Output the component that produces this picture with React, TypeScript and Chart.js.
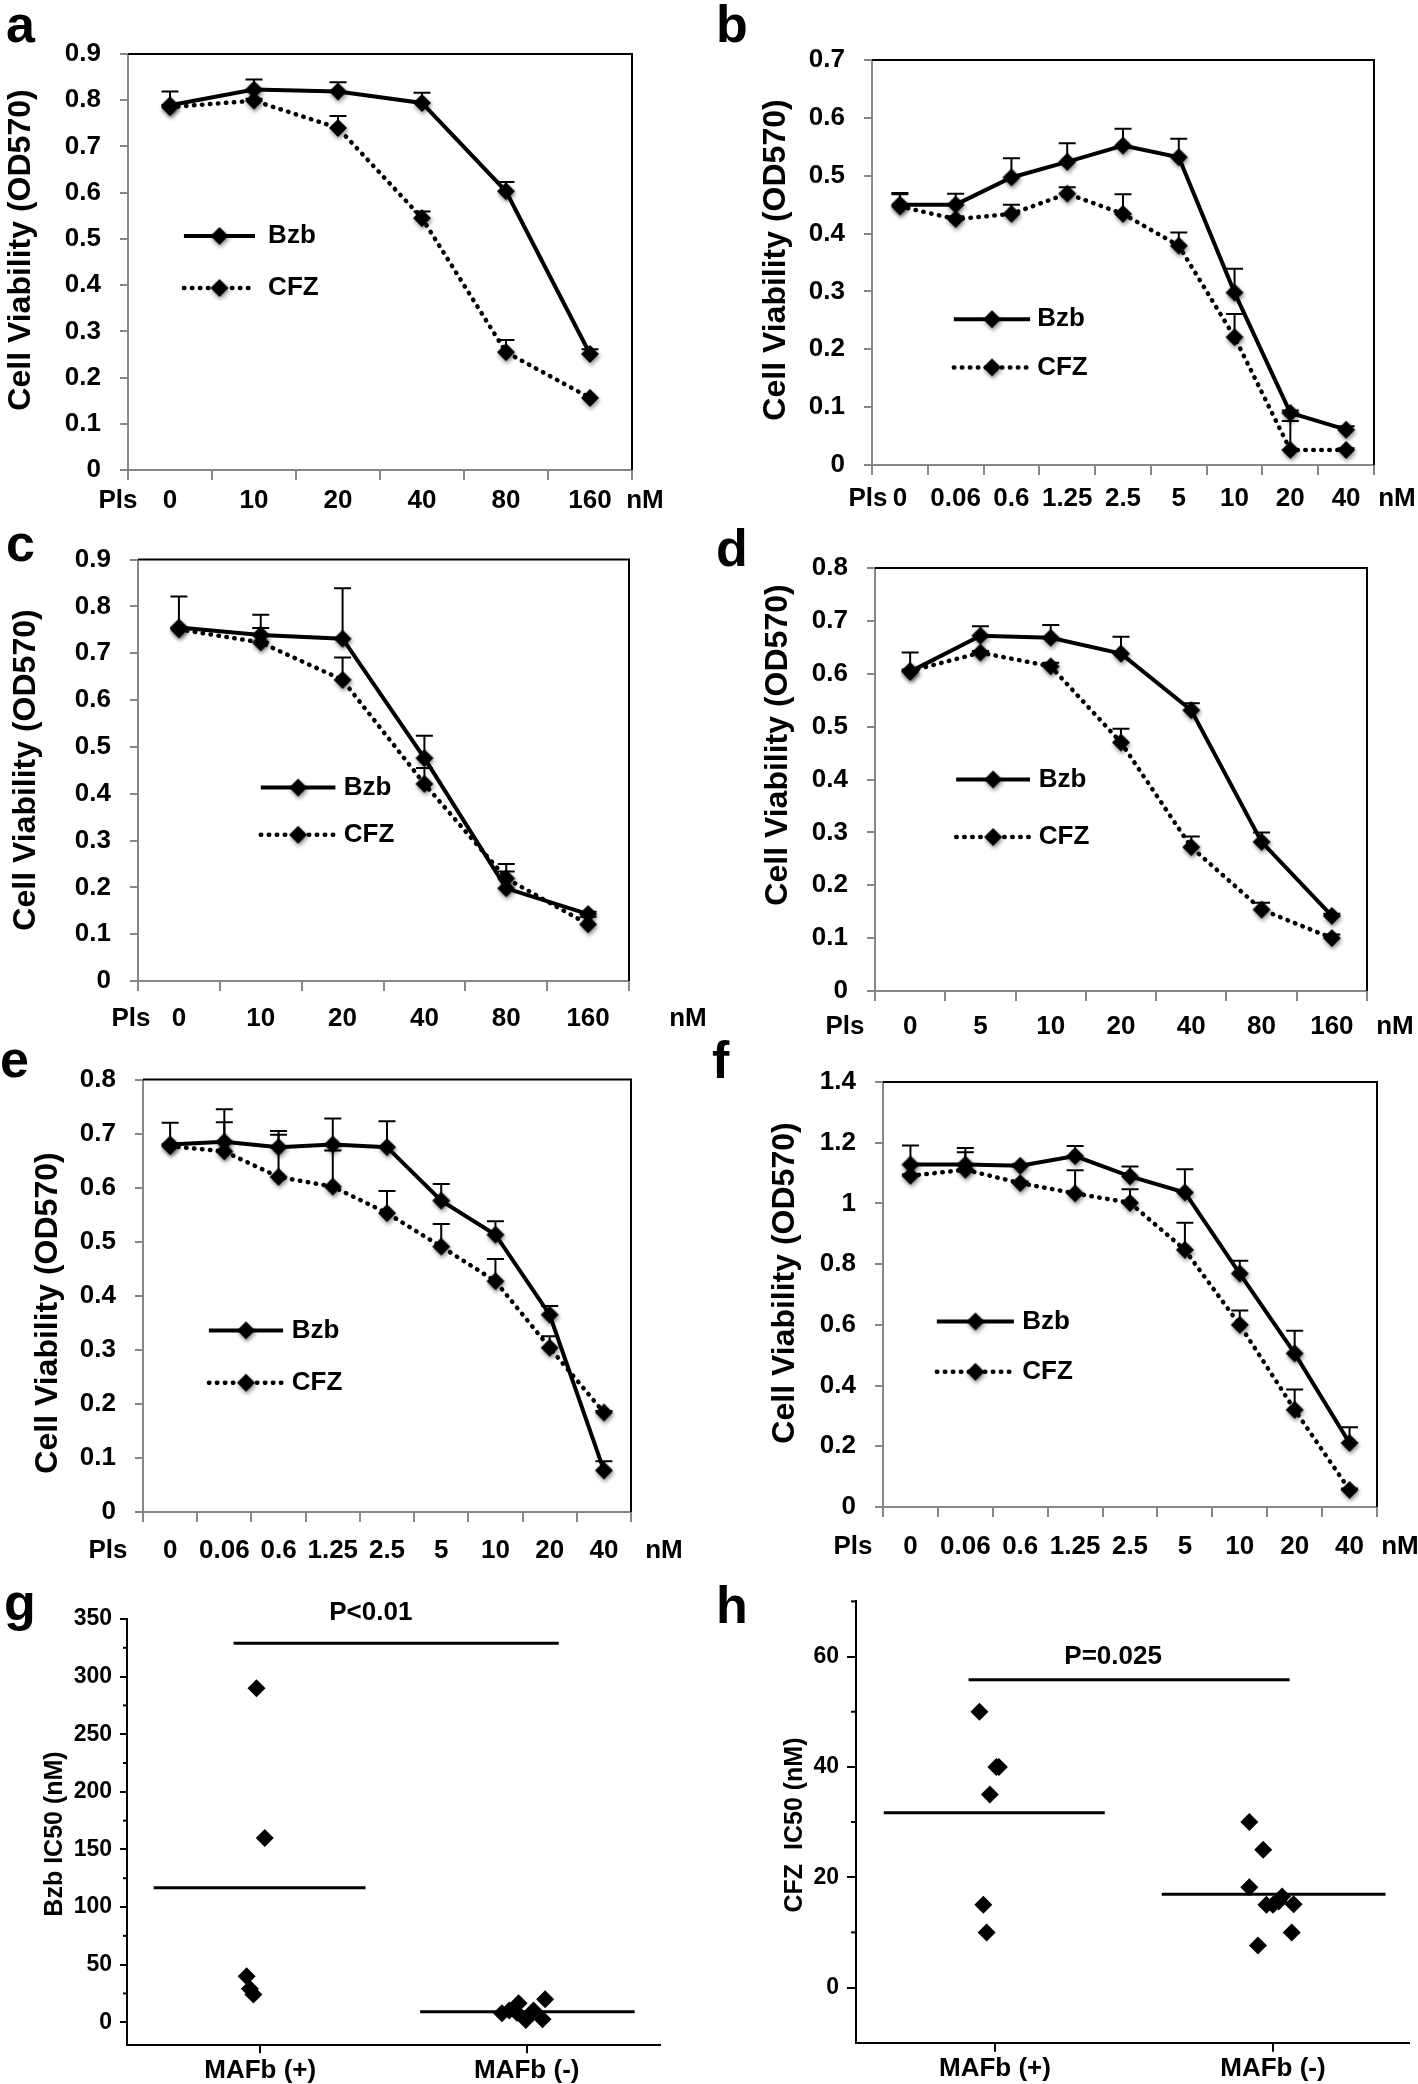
import React, { useEffect, useRef } from "react";
import { Chart, registerables } from "chart.js";

Chart.register(...registerables);

const FONT = "'Liberation Sans', Arial, Helvetica, sans-serif";
const GRAY = "#878787";

// ---------------- data ----------------
const DOSES_A = ["0", "10", "20", "40", "80", "160"];
const BZB_A = [0.789, 0.823, 0.819, 0.794, 0.603, 0.251];
const BZB_A_ERR = [0.03, 0.022, 0.02, 0.022, 0.02, 0.01];
const CFZ_A = [0.785, 0.799, 0.74, 0.545, 0.255, 0.156];
const CFZ_A_ERR = [0.004, 0.004, 0.026, 0.014, 0.026, 0.0];
const YTICKS_A = [0, 0.1, 0.2, 0.3, 0.4, 0.5, 0.6, 0.7, 0.8, 0.9];

const DOSES_B = ["0", "0.06", "0.6", "1.25", "2.5", "5", "10", "20", "40"];
const BZB_B = [0.45, 0.45, 0.497, 0.524, 0.552, 0.532, 0.298, 0.09, 0.061];
const BZB_B_ERR = [0.02, 0.019, 0.033, 0.032, 0.029, 0.032, 0.041, 0.004, 0.006];
const CFZ_B = [0.447, 0.425, 0.434, 0.469, 0.434, 0.379, 0.221, 0.026, 0.026];
const CFZ_B_ERR = [0.021, 0.005, 0.016, 0.011, 0.034, 0.023, 0.04, 0.05, 0.003];
const YTICKS_B = [0, 0.1, 0.2, 0.3, 0.4, 0.5, 0.6, 0.7];

const DOSES_C = ["0", "10", "20", "40", "80", "160"];
const BZB_C = [0.755, 0.739, 0.731, 0.476, 0.198, 0.143];
const BZB_C_ERR = [0.066, 0.043, 0.108, 0.048, 0.036, 0.005];
const CFZ_C = [0.751, 0.723, 0.643, 0.421, 0.219, 0.121];
const CFZ_C_ERR = [0.003, 0.031, 0.048, 0.034, 0.031, 0.016];
const YTICKS_C = [0, 0.1, 0.2, 0.3, 0.4, 0.5, 0.6, 0.7, 0.8, 0.9];

const DOSES_D = ["0", "5", "10", "20", "40", "80", "160"];
const BZB_D = [0.604, 0.672, 0.668, 0.638, 0.531, 0.282, 0.142];
const BZB_D_ERR = [0.036, 0.018, 0.024, 0.032, 0.013, 0.018, 0.004];
const CFZ_D = [0.605, 0.64, 0.614, 0.47, 0.272, 0.154, 0.1];
const CFZ_D_ERR = [0.003, 0.003, 0.007, 0.026, 0.02, 0.013, 0.007];
const YTICKS_D = [0, 0.1, 0.2, 0.3, 0.4, 0.5, 0.6, 0.7, 0.8];

const DOSES_E = ["0", "0.06", "0.6", "1.25", "2.5", "5", "10", "20", "40"];
const BZB_E = [0.68, 0.685, 0.675, 0.68, 0.675, 0.576, 0.513, 0.365, 0.077];
const BZB_E_ERR = [0.04, 0.06, 0.03, 0.048, 0.048, 0.031, 0.025, 0.016, 0.017];
const CFZ_E = [0.677, 0.667, 0.62, 0.602, 0.553, 0.491, 0.427, 0.304, 0.184];
const CFZ_E_ERR = [0.003, 0.054, 0.078, 0.067, 0.041, 0.042, 0.041, 0.021, 0.003];
const YTICKS_E = [0, 0.1, 0.2, 0.3, 0.4, 0.5, 0.6, 0.7, 0.8];

const DOSES_F = ["0", "0.06", "0.6", "1.25", "2.5", "5", "10", "20", "40"];
const BZB_F = [1.128, 1.128, 1.124, 1.156, 1.089, 1.036, 0.769, 0.506, 0.211];
const BZB_F_ERR = [0.063, 0.055, 0.006, 0.033, 0.033, 0.077, 0.042, 0.075, 0.052];
const CFZ_F = [1.091, 1.111, 1.067, 1.033, 1.002, 0.847, 0.6, 0.32, 0.056];
const CFZ_F_ERR = [0.005, 0.058, 0.005, 0.076, 0.045, 0.089, 0.047, 0.067, 0.005];
const YTICKS_F = [0, 0.2, 0.4, 0.6, 0.8, 1.0, 1.2, 1.4];

const GROUPS = ["MAFb (+)", "MAFb (-)"];
const GROUP_POS = [1, 3];

const G_POS_X = [0.972, 1.034, 0.898, 0.922, 0.949];
const G_POS_Y = [290, 160, 40, 29, 24];
const G_NEG_X = [2.814, 2.869, 2.939, 2.926, 2.993, 3.051, 3.138, 3.118];
const G_NEG_Y = [7.8, 10.1, 16.5, 8.3, 2.0, 10.1, 20.0, 2.6];
const G_MEANS = [116.7, 9.2];
const G_P_LINE = 329;
const G_YTICKS = [0, 50, 100, 150, 200, 250, 300, 350];
const G_YMINOR = [25, 75, 125, 175, 225, 275, 325];

const H_POS_X = [0.888, 1.01, 1.028, 0.963, 0.916, 0.94];
const H_POS_Y = [50, 40, 40, 35, 15, 10];
const H_NEG_X = [2.83, 2.93, 2.83, 2.892, 2.953, 3.0, 3.042, 3.066, 3.149, 3.135];
const H_NEG_Y = [30, 25, 18.2, 7.6, 15.0, 15.0, 15.6, 16.5, 15.1, 10.0];
const H_MEANS = [31.7, 16.9];
const H_P_LINE = 55.8;
const H_YTICKS = [0, 20, 40, 60];
const H_YMINOR = [10, 30, 50, 70];

// ---------------- helpers ----------------
function fmt(v: number) {
  return String(Number(Number(v).toFixed(1)));
}

function makeDiamond(r: number, shadow: boolean) {
  const pad = shadow ? 7 : 1;
  const size = Math.ceil(2 * (r + pad));
  const c = document.createElement("canvas");
  c.width = size;
  c.height = size;
  const ctx = c.getContext("2d") as CanvasRenderingContext2D;
  if (shadow) {
    ctx.shadowColor = "rgba(0,0,0,0.45)";
    ctx.shadowBlur = 4;
    ctx.shadowOffsetX = 1;
    ctx.shadowOffsetY = 2.5;
  }
  const m = size / 2;
  ctx.beginPath();
  ctx.moveTo(m - r, m);
  ctx.lineTo(m, m - r);
  ctx.lineTo(m + r, m);
  ctx.lineTo(m, m + r);
  ctx.closePath();
  ctx.fillStyle = "#000";
  ctx.fill();
  return c;
}

type Area = { l: number; t: number; r: number; b: number };
type Legend = { x1: number; x2: number; tx: number; y1: number; y2: number };
type LineCfg = {
  left: number;
  top: number;
  width: number;
  height: number;
  area: Area;
  labels: string[];
  bzb: number[];
  bzbErr: number[];
  cfz: number[];
  cfzErr: number[];
  yTicks: number[];
  titleX: number;
  titleY: number;
  xLabelY: number;
  plsX: number;
  nmX: number;
  legend: Legend;
};

const XH = 50;
const TS = 26;
const TICK_FONT = { family: FONT, size: TS, weight: "bold" as const };

const LINE_PANELS: LineCfg[] = [
  {
    left: 0, top: 0, width: 705, height: 525,
    area: { l: 128, t: 54, r: 632, b: 470 },
    labels: DOSES_A, bzb: BZB_A, bzbErr: BZB_A_ERR, cfz: CFZ_A, cfzErr: CFZ_A_ERR, yTicks: YTICKS_A,
    titleX: 21, titleY: 250, xLabelY: 501, plsX: 118, nmX: 645,
    legend: { x1: 0.111, x2: 0.252, tx: 0.278, y1: 0.4375, y2: 0.5625 },
  },
  {
    left: 705, top: 0, width: 713, height: 525,
    area: { l: 872, t: 60, r: 1374, b: 465 },
    labels: DOSES_B, bzb: BZB_B, bzbErr: BZB_B_ERR, cfz: CFZ_B, cfzErr: CFZ_B_ERR, yTicks: YTICKS_B,
    titleX: 776, titleY: 260, xLabelY: 499, plsX: 868, nmX: 1397,
    legend: { x1: 0.163, x2: 0.315, tx: 0.329, y1: 0.64, y2: 0.759 },
  },
  {
    left: 0, top: 525, width: 705, height: 520,
    area: { l: 138, t: 556, r: 629, b: 981 },
    labels: DOSES_C, bzb: BZB_C, bzbErr: BZB_C_ERR, cfz: CFZ_C, cfzErr: CFZ_C_ERR, yTicks: YTICKS_C,
    titleX: 26, titleY: 770, xLabelY: 1019, plsX: 131, nmX: 688,
    legend: { x1: 0.25, x2: 0.402, tx: 0.419, y1: 0.541, y2: 0.653 },
  },
  {
    left: 705, top: 525, width: 713, height: 520,
    area: { l: 875, t: 568, r: 1367, b: 991 },
    labels: DOSES_D, bzb: BZB_D, bzbErr: BZB_D_ERR, cfz: CFZ_D, cfzErr: CFZ_D_ERR, yTicks: YTICKS_D,
    titleX: 778, titleY: 745, xLabelY: 1027, plsX: 845, nmX: 1395,
    legend: { x1: 0.165, x2: 0.315, tx: 0.333, y1: 0.5, y2: 0.636 },
  },
  {
    left: 0, top: 1045, width: 705, height: 520,
    area: { l: 143, t: 1073, r: 631, b: 1512 },
    labels: DOSES_E, bzb: BZB_E, bzbErr: BZB_E_ERR, cfz: CFZ_E, cfzErr: CFZ_E_ERR, yTicks: YTICKS_E,
    titleX: 48, titleY: 1313, xLabelY: 1551, plsX: 108, nmX: 664,
    legend: { x1: 0.135, x2: 0.287, tx: 0.305, y1: 0.58, y2: 0.701 },
  },
  {
    left: 705, top: 1045, width: 713, height: 520,
    area: { l: 883, t: 1082, r: 1377, b: 1507 },
    labels: DOSES_F, bzb: BZB_F, bzbErr: BZB_F_ERR, cfz: CFZ_F, cfzErr: CFZ_F_ERR, yTicks: YTICKS_F,
    titleX: 785, titleY: 1283, xLabelY: 1547, plsX: 853, nmX: 1400,
    legend: { x1: 0.109, x2: 0.265, tx: 0.282, y1: 0.5635, y2: 0.682 },
  },
];

function LinePanel({ cfg }: { cfg: LineCfg }) {
  const ref = useRef<HTMLCanvasElement | null>(null);
  useEffect(() => {
    const canvas = ref.current;
    if (!canvas) return;
    const dia = makeDiamond(9, true);
    const { area } = cfg;
    const xPad = cfg.xLabelY - area.b - 10 - (TS * 1.2) / 2;

    const decor = {
      id: "decor",
      beforeDatasetsDraw(chart: any) {
        const ctx = chart.ctx as CanvasRenderingContext2D;
        const xs = chart.scales.x;
        const ys = chart.scales.y;
        ctx.save();
        ctx.strokeStyle = "#000";
        ctx.lineWidth = 2;
        ctx.setLineDash([]);
        const series: [number[], number[]][] = [
          [cfg.bzb, cfg.bzbErr],
          [cfg.cfz, cfg.cfzErr],
        ];
        series.forEach(([vals, errs]) =>
          vals.forEach((v, i) => {
            const e = errs[i];
            if (!e) return;
            const x = xs.getPixelForValue(i);
            const y0 = ys.getPixelForValue(v);
            const y1 = ys.getPixelForValue(v + e);
            ctx.beginPath();
            ctx.moveTo(x, y0);
            ctx.lineTo(x, y1);
            ctx.moveTo(x - 8.5, y1);
            ctx.lineTo(x + 8.5, y1);
            ctx.stroke();
          })
        );
        ctx.restore();
      },
      afterDraw(chart: any) {
        const ctx = chart.ctx as CanvasRenderingContext2D;
        const a = chart.chartArea;
        ctx.save();
        ctx.strokeStyle = "#000";
        ctx.lineWidth = 2;
        ctx.setLineDash([]);
        ctx.beginPath();
        ctx.moveTo(a.left, a.top);
        ctx.lineTo(a.right, a.top);
        ctx.lineTo(a.right, a.bottom);
        ctx.stroke();

        // y title
        ctx.fillStyle = "#000";
        ctx.font = `bold 32px ${FONT}`;
        ctx.textAlign = "center";
        ctx.textBaseline = "middle";
        ctx.save();
        ctx.translate(cfg.titleX - cfg.left, cfg.titleY - cfg.top);
        ctx.rotate(-Math.PI / 2);
        ctx.fillText("Cell Viability (OD570)", 0, 0);
        ctx.restore();

        // Pls / nM
        ctx.font = `bold ${TS}px ${FONT}`;
        ctx.fillText("Pls", cfg.plsX - cfg.left, cfg.xLabelY - cfg.top);
        ctx.fillText("nM", cfg.nmX - cfg.left, cfg.xLabelY - cfg.top);

        // legend
        const W = a.right - a.left;
        const H = a.bottom - a.top;
        const L = cfg.legend;
        const x1 = a.left + L.x1 * W;
        const x2 = a.left + L.x2 * W;
        const tx = a.left + L.tx * W;
        const yB = a.top + L.y1 * H;
        const yC = a.top + L.y2 * H;
        ctx.lineWidth = 4;
        ctx.lineCap = "butt";
        ctx.beginPath();
        ctx.moveTo(x1, yB);
        ctx.lineTo(x2, yB);
        ctx.stroke();
        ctx.drawImage(dia, (x1 + x2) / 2 - dia.width / 2, yB - dia.height / 2);
        ctx.lineWidth = 4.5;
        ctx.lineCap = "round";
        ctx.setLineDash([0.5, 7.5]);
        ctx.beginPath();
        ctx.moveTo(x1, yC);
        ctx.lineTo(x2, yC);
        ctx.stroke();
        ctx.setLineDash([]);
        ctx.drawImage(dia, (x1 + x2) / 2 - dia.width / 2, yC - dia.height / 2);
        ctx.textAlign = "left";
        ctx.fillText("Bzb", tx, yB);
        ctx.fillText("CFZ", tx, yC);
        ctx.restore();
      },
    };

    const chart = new Chart(canvas, {
      type: "line",
      data: {
        labels: cfg.labels,
        datasets: [
          {
            label: "Bzb",
            data: cfg.bzb,
            borderColor: "#000",
            backgroundColor: "#000",
            borderWidth: 4,
            tension: 0,
            pointStyle: dia as any,
            pointRadius: 9,
          },
          {
            label: "CFZ",
            data: cfg.cfz,
            borderColor: "#000",
            backgroundColor: "#000",
            borderWidth: 4.5,
            borderDash: [0.5, 7.5],
            borderCapStyle: "round",
            tension: 0,
            pointStyle: dia as any,
            pointRadius: 9,
          },
        ],
      },
      options: {
        animation: false,
        responsive: false,
        maintainAspectRatio: false,
        devicePixelRatio: 1,
        layout: {
          padding: {
            left: 0,
            top: area.t - cfg.top,
            right: cfg.left + cfg.width - area.r,
            bottom: cfg.top + cfg.height - area.b - XH,
          },
        },
        plugins: { legend: { display: false }, tooltip: { enabled: false } },
        scales: {
          x: {
            type: "category",
            offset: true,
            grid: {
              offset: true,
              drawOnChartArea: false,
              drawTicks: true,
              tickLength: 10,
              color: GRAY,
              lineWidth: 2,
            },
            border: { color: GRAY, width: 2 },
            ticks: { font: TICK_FONT, color: "#000", padding: xPad, autoSkip: false, maxRotation: 0 },
            afterFit: (s: any) => {
              s.height = XH;
            },
          },
          y: {
            type: "linear",
            min: 0,
            max: cfg.yTicks[cfg.yTicks.length - 1],
            afterBuildTicks: (s: any) => {
              s.ticks = cfg.yTicks.map((v) => ({ value: v }));
            },
            ticks: {
              font: TICK_FONT,
              color: "#000",
              padding: 19,
              autoSkip: false,
              callback: (v: any) => fmt(Number(v)),
            },
            grid: { drawOnChartArea: false, drawTicks: true, tickLength: 8, color: GRAY, lineWidth: 2 },
            border: { color: GRAY, width: 2 },
            afterFit: (s: any) => {
              s.width = area.l - cfg.left;
            },
          },
        },
      },
      plugins: [decor],
    } as any);
    return () => chart.destroy();
  }, [cfg]);
  return (
    <canvas
      ref={ref}
      width={cfg.width}
      height={cfg.height}
      style={{ position: "absolute", left: cfg.left, top: cfg.top, width: cfg.width, height: cfg.height }}
    />
  );
}

type ScatCfg = {
  left: number;
  top: number;
  width: number;
  height: number;
  area: Area;
  xMax: number;
  yMin: number;
  yMax: number;
  yMajor: number[];
  yMinor: number[];
  tickLen: number;
  minorLen: number;
  yPad: number;
  xTickLen: number;
  xPad: number;
  tickSize: number;
  posX: number[];
  posY: number[];
  negX: number[];
  negY: number[];
  means: number[];
  pLine: number;
  pText: string;
  pTextX: number;
  pTextY: number;
  pSize: number;
  title: string;
  titleX: number;
  titleY: number;
};

const MEAN_SPAN: [number, number][] = [
  [0.2, 1.79],
  [2.2, 3.81],
];

const G_CFG: ScatCfg = {
  left: 0, top: 1565, width: 705, height: 519,
  area: { l: 127, t: 1619, r: 660, b: 2045.3 },
  xMax: 4, yMin: -20, yMax: 350, yMajor: G_YTICKS, yMinor: G_YMINOR,
  tickLen: 7, minorLen: 4, yPad: 8, xTickLen: 8, xPad: 2, tickSize: 23,
  posX: G_POS_X, posY: G_POS_Y, negX: G_NEG_X, negY: G_NEG_Y, means: G_MEANS,
  pLine: G_P_LINE, pText: "P<0.01", pTextX: 1.83, pTextY: 355, pSize: 26,
  title: "Bzb IC50 (nM)", titleX: 55, titleY: 1834,
};

const H_CFG: ScatCfg = {
  left: 705, top: 1565, width: 713, height: 519,
  area: { l: 856, t: 1601.4, r: 1418, b: 2042.7 },
  xMax: 3.979, yMin: -10, yMax: 70, yMajor: H_YTICKS, yMinor: H_YMINOR,
  tickLen: 9, minorLen: 5, yPad: 8, xTickLen: 9, xPad: 2, tickSize: 23,
  posX: H_POS_X, posY: H_POS_Y, negX: H_NEG_X, negY: H_NEG_Y, means: H_MEANS,
  pLine: H_P_LINE, pText: "P=0.025", pTextX: 1.85, pTextY: 60, pSize: 26,
  title: "CFZ  IC50 (nM)", titleX: 795, titleY: 1825,
};

const G_P_SPAN: [number, number] = [0.8, 3.24];
const H_P_SPAN: [number, number] = [0.81, 3.12];

function ScatterPanel({ cfg, pSpan }: { cfg: ScatCfg; pSpan: [number, number] }) {
  const ref = useRef<HTMLCanvasElement | null>(null);
  useEffect(() => {
    const canvas = ref.current;
    if (!canvas) return;
    const { area } = cfg;
    const XHS = Math.floor(cfg.top + cfg.height - area.b);

    const decor = {
      id: "decor2",
      afterDraw(chart: any) {
        const ctx = chart.ctx as CanvasRenderingContext2D;
        const a = chart.chartArea;
        const xs = chart.scales.x;
        const ys = chart.scales.y;
        ctx.save();
        ctx.strokeStyle = "#000";
        ctx.lineWidth = 2;
        cfg.yMinor.forEach((v) => {
          const y = ys.getPixelForValue(v);
          ctx.beginPath();
          ctx.moveTo(a.left - cfg.minorLen, y);
          ctx.lineTo(a.left, y);
          ctx.stroke();
        });
        ctx.fillStyle = "#000";
        ctx.textAlign = "center";
        ctx.textBaseline = "middle";
        ctx.font = `bold ${cfg.pSize}px ${FONT}`;
        ctx.fillText(cfg.pText, xs.getPixelForValue(cfg.pTextX), ys.getPixelForValue(cfg.pTextY));
        ctx.font = `bold 25px ${FONT}`;
        ctx.translate(cfg.titleX - cfg.left, cfg.titleY - cfg.top);
        ctx.rotate(-Math.PI / 2);
        ctx.fillText(cfg.title, 0, 0);
        ctx.restore();
      },
    };

    const lineDs = (x1: number, x2: number, y: number) => ({
      data: [
        { x: x1, y },
        { x: x2, y },
      ],
      showLine: true,
      pointRadius: 0,
      borderColor: "#000",
      borderWidth: 3,
    });

    const chart = new Chart(canvas, {
      type: "scatter",
      data: {
        datasets: [
          {
            label: GROUPS[0],
            data: cfg.posX.map((x, i) => ({ x, y: cfg.posY[i] })),
            pointStyle: "rectRot",
            pointRadius: 9,
            backgroundColor: "#000",
            borderColor: "#000",
            borderWidth: 0,
          },
          {
            label: GROUPS[1],
            data: cfg.negX.map((x, i) => ({ x, y: cfg.negY[i] })),
            pointStyle: "rectRot",
            pointRadius: 9,
            backgroundColor: "#000",
            borderColor: "#000",
            borderWidth: 0,
          },
          lineDs(MEAN_SPAN[0][0], MEAN_SPAN[0][1], cfg.means[0]),
          lineDs(MEAN_SPAN[1][0], MEAN_SPAN[1][1], cfg.means[1]),
          lineDs(pSpan[0], pSpan[1], cfg.pLine),
        ],
      },
      options: {
        animation: false,
        responsive: false,
        maintainAspectRatio: false,
        devicePixelRatio: 1,
        layout: {
          padding: {
            left: 0,
            top: area.t - cfg.top,
            right: cfg.left + cfg.width - area.r,
            bottom: cfg.top + cfg.height - area.b - XHS,
          },
        },
        plugins: { legend: { display: false }, tooltip: { enabled: false } },
        scales: {
          x: {
            type: "linear",
            min: 0,
            max: cfg.xMax,
            afterBuildTicks: (s: any) => {
              s.ticks = GROUP_POS.map((v) => ({ value: v }));
            },
            ticks: {
              font: { family: FONT, size: 26, weight: "bold" },
              color: "#000",
              padding: cfg.xPad,
              autoSkip: false,
              maxRotation: 0,
              callback: (v: any) => GROUPS[GROUP_POS.indexOf(Number(v))] ?? "",
            },
            grid: {
              drawOnChartArea: false,
              drawTicks: true,
              tickLength: cfg.xTickLen,
              color: "#000",
              lineWidth: 2,
            },
            border: { color: "#000", width: 2 },
            afterFit: (s: any) => {
              s.height = XHS;
            },
          },
          y: {
            type: "linear",
            min: cfg.yMin,
            max: cfg.yMax,
            afterBuildTicks: (s: any) => {
              s.ticks = cfg.yMajor.map((v) => ({ value: v }));
            },
            ticks: {
              font: { family: FONT, size: cfg.tickSize, weight: "bold" },
              color: "#000",
              padding: cfg.yPad,
              autoSkip: false,
              callback: (v: any) => String(v),
            },
            grid: {
              drawOnChartArea: false,
              drawTicks: true,
              tickLength: cfg.tickLen,
              color: "#000",
              lineWidth: 2,
            },
            border: { color: "#000", width: 2 },
            afterFit: (s: any) => {
              s.width = area.l - cfg.left;
            },
          },
        },
      },
      plugins: [decor],
    } as any);
    return () => chart.destroy();
  }, [cfg, pSpan]);
  return (
    <canvas
      ref={ref}
      width={cfg.width}
      height={cfg.height}
      style={{ position: "absolute", left: cfg.left, top: cfg.top, width: cfg.width, height: cfg.height }}
    />
  );
}

const LETTERS = [
  { t: "a", x: 6, base: 42 },
  { t: "b", x: 716, base: 42 },
  { t: "c", x: 6, base: 561 },
  { t: "d", x: 716, base: 566 },
  { t: "e", x: 0, base: 1077 },
  { t: "f", x: 712, base: 1078 },
  { t: "g", x: 4, base: 1620 },
  { t: "h", x: 716, base: 1623 },
];

export default function App() {
  return (
    <div
      style={{
        position: "absolute",
        left: 0,
        top: 0,
        width: 1418,
        height: 2084,
        background: "#fff",
        overflow: "hidden",
      }}
    >
      {LINE_PANELS.map((c, i) => (
        <LinePanel key={i} cfg={c} />
      ))}
      <ScatterPanel cfg={G_CFG} pSpan={G_P_SPAN} />
      <ScatterPanel cfg={H_CFG} pSpan={H_P_SPAN} />
      {LETTERS.map((L) => (
        <div
          key={L.t}
          style={{
            position: "absolute",
            left: L.x,
            top: L.base - 44,
            fontFamily: FONT,
            fontWeight: "bold",
            fontSize: 52,
            lineHeight: "52px",
            color: "#000",
          }}
        >
          {L.t}
        </div>
      ))}
    </div>
  );
}
